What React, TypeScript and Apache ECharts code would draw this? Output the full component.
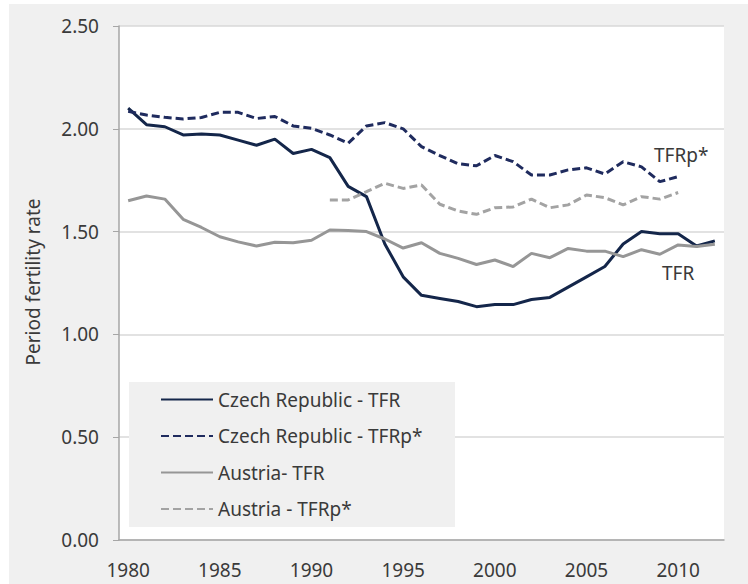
import React, { useEffect, useRef } from "react";
import * as echarts from "echarts";

const years = [
  "1980", "1981", "1982", "1983", "1984", "1985", "1986", "1987", "1988", "1989",
  "1990", "1991", "1992", "1993", "1994", "1995", "1996", "1997", "1998", "1999",
  "2000", "2001", "2002", "2003", "2004", "2005", "2006", "2007", "2008", "2009",
  "2010", "2011", "2012",
];

const czechTFR = [
  2.10, 2.02, 2.01, 1.97, 1.975, 1.97, 1.945, 1.92, 1.95, 1.88,
  1.90, 1.86, 1.72, 1.67, 1.44, 1.28, 1.19, 1.175, 1.16, 1.135,
  1.145, 1.145, 1.17, 1.18, 1.23, 1.28, 1.33, 1.44, 1.50, 1.49,
  1.49, 1.43, 1.455,
];

const czechTFRp = [
  2.085, 2.067, 2.056, 2.048, 2.055, 2.08, 2.08, 2.05, 2.06, 2.014,
  2.002, 1.97, 1.93, 2.014, 2.03, 2.0, 1.913, 1.87, 1.83, 1.82,
  1.87, 1.84, 1.775, 1.775, 1.80, 1.81, 1.78, 1.84, 1.815, 1.743,
  1.767, null, null,
];

const austriaTFR = [
  1.65, 1.673, 1.658, 1.56, 1.52, 1.475, 1.45, 1.43, 1.448, 1.446,
  1.458, 1.508, 1.505, 1.50, 1.464, 1.42, 1.446, 1.394, 1.37, 1.34,
  1.362, 1.33, 1.394, 1.373, 1.418, 1.405, 1.405, 1.378, 1.412, 1.39,
  1.435, 1.427, 1.438,
];

const austriaTFRp = [
  null, null, null, null, null, null, null, null, null, null,
  null, 1.654, 1.654, 1.694, 1.735, 1.71, 1.727, 1.633, 1.60, 1.584,
  1.616, 1.62, 1.658, 1.616, 1.63, 1.678, 1.665, 1.63, 1.67, 1.658,
  1.69, null, null,
];

const yTicks = { min: 0, max: 2.5, interval: 0.5 };
const seriesNames = [
  "Czech Republic - TFR",
  "Czech Republic - TFRp*",
  "Austria- TFR",
  "Austria - TFRp*",
];

const FONT = "Noto Sans";
const TEXT = "#3a3a3a";

export default function App() {
  const ref = useRef<HTMLDivElement>(null);
  useEffect(() => {
    const chart = echarts.init(ref.current!, null, { renderer: "svg" });
    const mk = (name: string, data: any[], color: string, type: any) => ({
      name,
      type: "line",
      data,
      symbol: "none",
      connectNulls: false,
      lineStyle: { color, width: 3, type },
      itemStyle: { color },
      z: 2,
    });
    chart.setOption({
      animation: false,
      backgroundColor: "#f0f0f0",
      textStyle: { fontFamily: FONT },
      grid: {
        left: 110,
        top: 22,
        right: 24,
        bottom: 44,
        show: true,
        backgroundColor: "#ffffff",
        borderWidth: 0,
      },
      xAxis: {
        type: "category",
        data: years,
        boundaryGap: true,
        axisLine: { lineStyle: { color: "#a6a6a6", width: 1.5 } },
        axisTick: { interval: 0, length: 6, lineStyle: { color: "#a6a6a6" } },
        axisLabel: {
          interval: 4,
          margin: 20,
          color: TEXT,
          fontSize: 19,
          fontFamily: FONT,
        },
        splitLine: { show: false },
      },
      yAxis: {
        type: "value",
        min: yTicks.min,
        max: yTicks.max,
        interval: yTicks.interval,
        axisLine: { show: true, lineStyle: { color: "#a6a6a6", width: 1.5 } },
        axisTick: { show: true, length: 6, lineStyle: { color: "#a6a6a6" } },
        axisLabel: {
          margin: 20,
          color: TEXT,
          fontSize: 19,
          fontFamily: FONT,
          formatter: (v: number) => v.toFixed(2),
        },
        splitLine: { lineStyle: { color: "#d9d9d9", width: 1.5 } },
      },
      legend: {
        orient: "vertical",
        left: 151,
        top: 386,
        padding: 0,
        itemWidth: 52,
        itemHeight: 14,
        itemGap: 17.5,
        data: seriesNames,
        itemStyle: { opacity: 0, borderWidth: 0 },
        textStyle: { color: TEXT, fontSize: 19, fontFamily: FONT },
        z: 5,
      },
      graphic: [
        {
          type: "rect",
          shape: { x: 120, y: 378, width: 326, height: 145 },
          style: { fill: "#f0f0f0" },
          z: 3,
        },
        {
          type: "text",
          x: 24,
          y: 278,
          rotation: Math.PI / 2,
          style: {
            text: "Period fertility rate",
            fill: TEXT,
            fontSize: 19,
            fontFamily: FONT,
            align: "center",
            verticalAlign: "middle",
          },
          z: 5,
        },
        {
          type: "text",
          x: 645,
          y: 151,
          style: {
            text: "TFRp*",
            fill: TEXT,
            fontSize: 19,
            fontFamily: FONT,
            align: "left",
            verticalAlign: "middle",
          },
          z: 5,
        },
        {
          type: "text",
          x: 653,
          y: 269,
          style: {
            text: "TFR",
            fill: TEXT,
            fontSize: 19,
            fontFamily: FONT,
            align: "left",
            verticalAlign: "middle",
          },
          z: 5,
        },
      ],
      series: [
        mk(seriesNames[0], czechTFR, "#14264a", "solid"),
        mk(seriesNames[1], czechTFRp, "#1f2b5e", [8, 4]),
        mk(seriesNames[2], austriaTFR, "#969696", "solid"),
        mk(seriesNames[3], austriaTFRp, "#a3a3a3", [8, 4]),
      ],
    });
    return () => chart.dispose();
  }, []);
  return (
    <div
      ref={ref}
      style={{ position: "absolute", left: 9, top: 4, width: 739, height: 580 }}
    />
  );
}
